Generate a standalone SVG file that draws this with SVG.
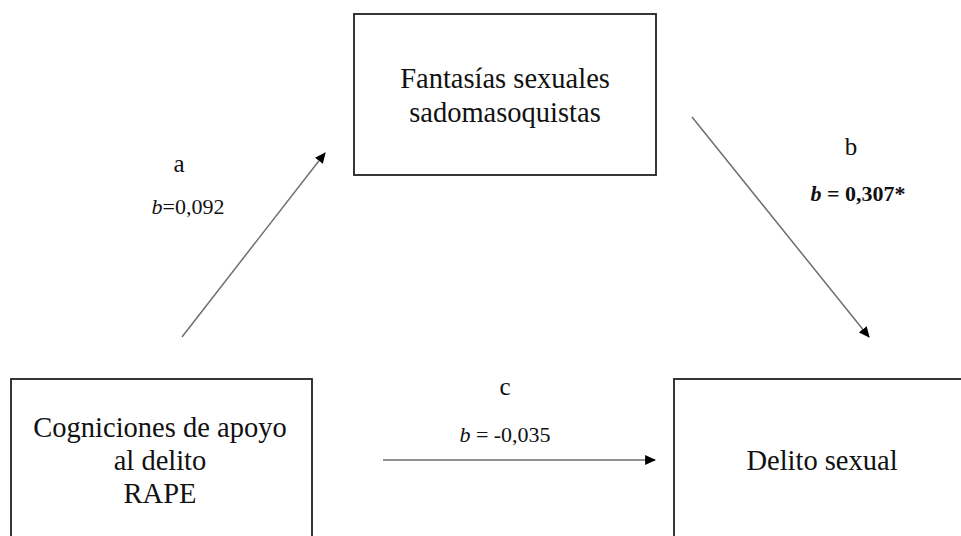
<svg xmlns="http://www.w3.org/2000/svg" width="961" height="536" viewBox="0 0 961 536">
<style>
.box{fill:#fff;stroke:#222;stroke-width:1.8}
.t{font-family:"Liberation Serif","Times New Roman","DejaVu Serif",serif;fill:#111;text-anchor:middle}
.main{font-size:28.5px}
.lab{font-size:25px}
.coef{font-size:22px}
.conn{stroke:#6e6e6e;stroke-width:1.5;fill:none;marker-end:url(#ah)}
</style>
<defs>
<marker id="ah" viewBox="0 0 10 10" refX="9" refY="5" markerWidth="11" markerHeight="11" markerUnits="userSpaceOnUse" orient="auto">
<path d="M0,0.5 L10,5 L0,9.5 Z" fill="#000"/>
</marker>
</defs>
<rect width="961" height="536" fill="#fff"/>
<g id="node-fantasias">
<rect class="box" x="354" y="14" width="302" height="161"/>
<text class="t main" x="505" y="88">Fantasías sexuales</text>
<text class="t main" x="505" y="122">sadomasoquistas</text>
</g>
<g id="node-cogniciones">
<rect class="box" x="11" y="379" width="301" height="170"/>
<text class="t main" x="160" y="437">Cogniciones de apoyo</text>
<text class="t main" x="160" y="470">al delito</text>
<text class="t main" x="160" y="503">RAPE</text>
</g>
<g id="node-delito">
<rect class="box" x="674" y="379" width="300" height="170"/>
<text class="t main" x="822" y="470">Delito sexual</text>
</g>
<g id="connectors">
<line class="conn" x1="182" y1="337" x2="325" y2="153"/>
<line class="conn" x1="692" y1="117" x2="869" y2="337"/>
<line class="conn" x1="383" y1="460" x2="655" y2="460"/>
</g>
<g id="labels">
<text class="t lab" x="179" y="172">a</text>
<text class="t coef" x="188" y="214"><tspan font-style="italic">b</tspan>=0,092</text>
<text class="t lab" x="851" y="155">b</text>
<text class="t coef" x="858" y="201" font-weight="bold" font-size="22px"><tspan font-style="italic">b</tspan> = 0,307*</text>
<text class="t lab" x="505" y="395">c</text>
<text class="t coef" x="505" y="442"><tspan font-style="italic">b</tspan> = -0,035</text>
</g>
</svg>
